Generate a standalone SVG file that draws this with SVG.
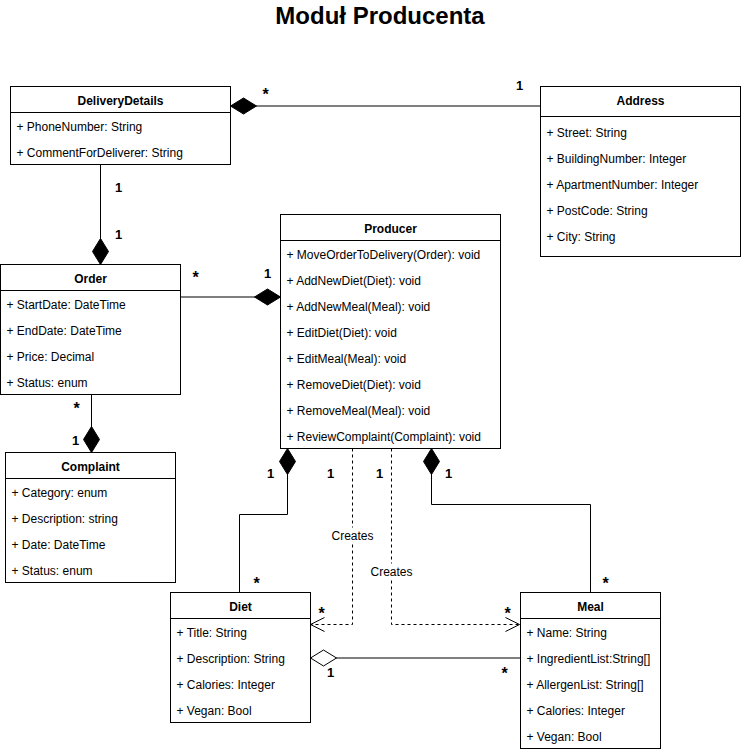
<svg xmlns="http://www.w3.org/2000/svg" width="741" height="752" viewBox="0 0 741 752">
<style>
.box{fill:#fff;stroke:#000;stroke-width:1}
.sep{stroke:#000;stroke-width:1}
.h{font-family:"Liberation Sans",Arial,sans-serif;font-size:12px;font-weight:bold;text-anchor:middle;fill:#000}
.a{font-family:"Liberation Sans",Arial,sans-serif;font-size:12px;fill:#000}
.m{font-family:"Liberation Sans",Arial,sans-serif;font-size:13px;font-weight:bold;text-anchor:middle;fill:#000}
.s{font-family:"Liberation Sans",Arial,sans-serif;font-size:16px;font-weight:bold;text-anchor:middle;fill:#000}
.lbl{font-family:"Liberation Sans",Arial,sans-serif;font-size:12px;text-anchor:middle;fill:#000}
.title{font-family:"Liberation Sans",Arial,sans-serif;font-size:24px;font-weight:bold;text-anchor:middle;fill:#000}
.edge{fill:none;stroke:#000;stroke-width:1}
.dash{fill:none;stroke:#000;stroke-width:1;stroke-dasharray:3 3}
.bg{fill:#fff}
</style>
<defs>
<marker id="filled" markerUnits="userSpaceOnUse" markerWidth="28" markerHeight="18" viewBox="-1 -1 28 18" refX="26" refY="8" orient="auto">
<path d="M0,8 L13,0 L26,8 L13,16 Z" fill="#000" stroke="#000" stroke-width="1"/>
</marker>
<marker id="hollow" markerUnits="userSpaceOnUse" markerWidth="28" markerHeight="18" viewBox="-1 -1 28 18" refX="26" refY="8" orient="auto">
<path d="M0,8 L13,0 L26,8 L13,16 Z" fill="#fff" stroke="#000" stroke-width="1"/>
</marker>
<marker id="open" markerUnits="userSpaceOnUse" markerWidth="16" markerHeight="16" viewBox="-1 -1 16 16" refX="14" refY="7" orient="auto">
<path d="M0,0 L14,7 L0,14" fill="none" stroke="#000" stroke-width="1" stroke-dasharray="none"/>
</marker>
</defs>
<rect x="0" y="0" width="741" height="752" fill="#fff"/>
<text class="title" x="380" y="24">Moduł Producenta</text>
<g transform="translate(0.5,0.5)">
<g id="connectors">
<path class="edge" d="M540,105.5 L230,105.5" marker-end="url(#filled)"/>
<path class="edge" d="M100,164 L100,264" marker-end="url(#filled)"/>
<path class="edge" d="M180,296.5 L280,296.5" marker-end="url(#filled)"/>
<path class="edge" d="M91,394 L91,452" marker-end="url(#filled)"/>
<path class="edge" d="M239,592 L239,514 L287,514 L287,448" marker-end="url(#filled)"/>
<path class="edge" d="M590,592 L590,504 L431,504 L431,448" marker-end="url(#filled)"/>
<path class="edge" d="M520,657.5 L310,657.5" marker-end="url(#hollow)"/>
<path class="dash" d="M352,448 L352,624 L310,624" marker-end="url(#open)"/>
<path class="dash" d="M391,448 L391,624 L519,624" marker-end="url(#open)"/>
<rect class="bg" x="330" y="527" width="44" height="15"/>
<text class="lbl" x="352" y="539">Creates</text>
<rect class="bg" x="369" y="563" width="44" height="15"/>
<text class="lbl" x="391" y="575">Creates</text>
<text class="s" x="265" y="99.5">*</text>
<text class="m" x="519" y="89">1</text>
<text class="m" x="118" y="191">1</text>
<text class="m" x="118" y="238.5">1</text>
<text class="s" x="195" y="282">*</text>
<text class="m" x="267" y="277.5">1</text>
<text class="s" x="76" y="413">*</text>
<text class="m" x="75" y="444">1</text>
<text class="m" x="270" y="477">1</text>
<text class="m" x="330" y="477">1</text>
<text class="m" x="379" y="477">1</text>
<text class="m" x="448" y="477">1</text>
<text class="s" x="256" y="588">*</text>
<text class="s" x="605" y="588.5">*</text>
<text class="s" x="321" y="618">*</text>
<text class="s" x="507" y="618">*</text>
<text class="m" x="330" y="676.5">1</text>
<text class="s" x="504" y="678">*</text>
</g>
<g id="deliverydetails">
<rect class="box" x="10" y="86" width="220" height="78"/>
<line class="sep" x1="10" y1="112" x2="230" y2="112"/>
<text class="h" x="120" y="104">DeliveryDetails</text>
<text class="a" x="16" y="130">+ PhoneNumber: String</text>
<text class="a" x="16" y="156">+ CommentForDeliverer: String</text>
</g>
<g id="address">
<rect class="box" x="540" y="86" width="200" height="170"/>
<line class="sep" x1="540" y1="116" x2="740" y2="116"/>
<text class="h" x="640" y="104.5">Address</text>
<text class="a" x="546" y="136">+ Street: String</text>
<text class="a" x="546" y="162">+ BuildingNumber: Integer</text>
<text class="a" x="546" y="188">+ ApartmentNumber: Integer</text>
<text class="a" x="546" y="214">+ PostCode: String</text>
<text class="a" x="546" y="240">+ City: String</text>
</g>
<g id="producer">
<rect class="box" x="280" y="214" width="220" height="234"/>
<line class="sep" x1="280" y1="240" x2="500" y2="240"/>
<text class="h" x="390" y="232">Producer</text>
<text class="a" x="286" y="258">+ MoveOrderToDelivery(Order): void</text>
<text class="a" x="286" y="284">+ AddNewDiet(Diet): void</text>
<text class="a" x="286" y="310">+ AddNewMeal(Meal): void</text>
<text class="a" x="286" y="336">+ EditDiet(Diet): void</text>
<text class="a" x="286" y="362">+ EditMeal(Meal): void</text>
<text class="a" x="286" y="388">+ RemoveDiet(Diet): void</text>
<text class="a" x="286" y="414">+ RemoveMeal(Meal): void</text>
<text class="a" x="286" y="440">+ ReviewComplaint(Complaint): void</text>
</g>
<g id="order">
<rect class="box" x="0" y="264" width="180" height="130"/>
<line class="sep" x1="0" y1="290" x2="180" y2="290"/>
<text class="h" x="90" y="282">Order</text>
<text class="a" x="6" y="308">+ StartDate: DateTime</text>
<text class="a" x="6" y="334">+ EndDate: DateTime</text>
<text class="a" x="6" y="360">+ Price: Decimal</text>
<text class="a" x="6" y="386">+ Status: enum</text>
</g>
<g id="complaint">
<rect class="box" x="5" y="452" width="170" height="130"/>
<line class="sep" x1="5" y1="478" x2="175" y2="478"/>
<text class="h" x="90" y="470">Complaint</text>
<text class="a" x="11" y="496">+ Category: enum</text>
<text class="a" x="11" y="522">+ Description: string</text>
<text class="a" x="11" y="548">+ Date: DateTime</text>
<text class="a" x="11" y="574">+ Status: enum</text>
</g>
<g id="diet">
<rect class="box" x="170" y="592" width="140" height="130"/>
<line class="sep" x1="170" y1="618" x2="310" y2="618"/>
<text class="h" x="240" y="610">Diet</text>
<text class="a" x="176" y="636">+ Title: String</text>
<text class="a" x="176" y="662">+ Description: String</text>
<text class="a" x="176" y="688">+ Calories: Integer</text>
<text class="a" x="176" y="714">+ Vegan: Bool</text>
</g>
<g id="meal">
<rect class="box" x="520" y="592" width="140" height="156"/>
<line class="sep" x1="520" y1="618" x2="660" y2="618"/>
<text class="h" x="590" y="610">Meal</text>
<text class="a" x="526" y="636">+ Name: String</text>
<text class="a" x="526" y="662">+ IngredientList:String[]</text>
<text class="a" x="526" y="688">+ AllergenList: String[]</text>
<text class="a" x="526" y="714">+ Calories: Integer</text>
<text class="a" x="526" y="740">+ Vegan: Bool</text>
</g>
</g>
</svg>
